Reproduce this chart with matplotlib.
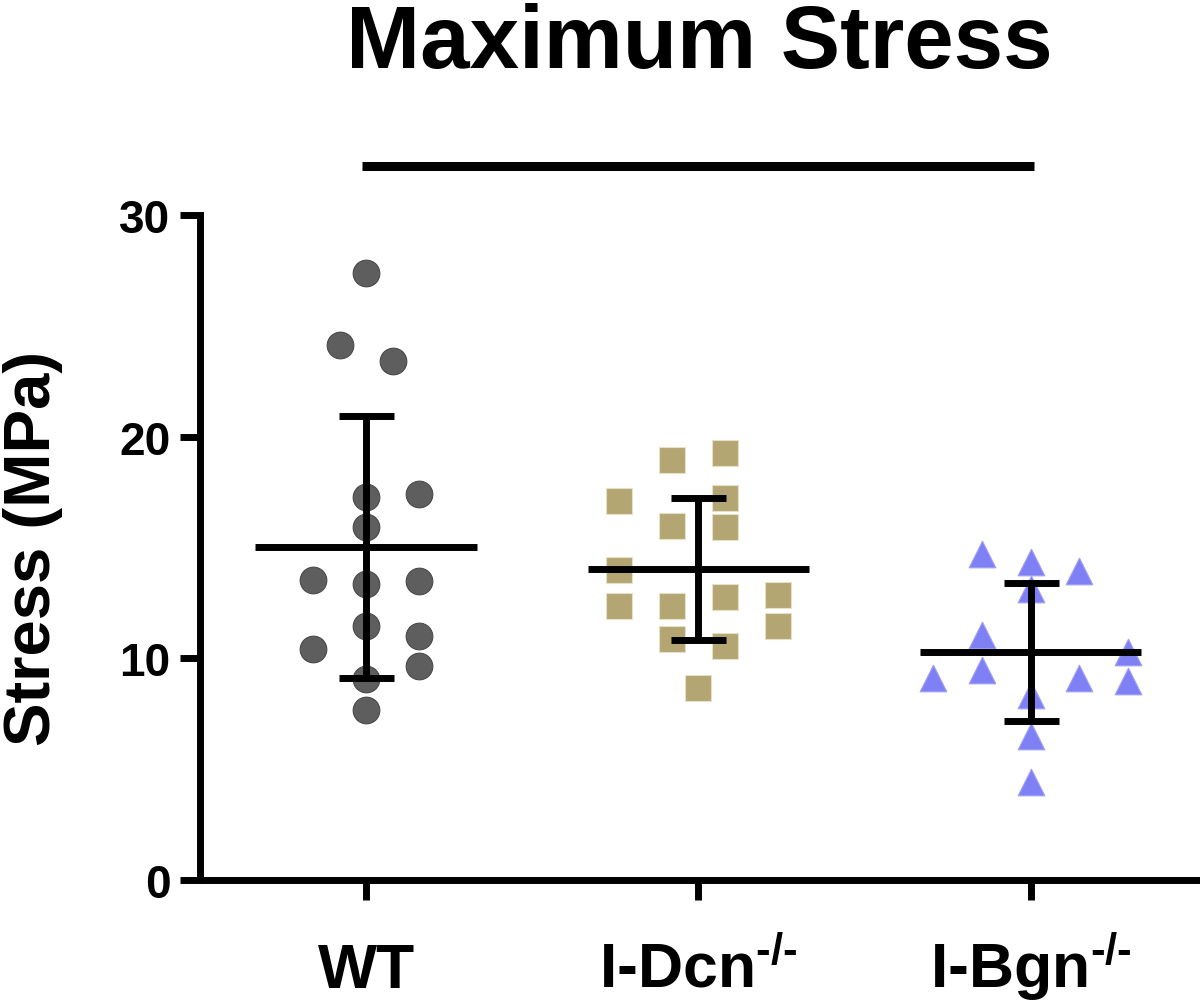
import matplotlib
matplotlib.use("Agg")
import matplotlib.pyplot as plt
import numpy as np

# ---------------- data ----------------
categories = ["WT", "I-Dcn", "I-Bgn"]
tick_labels = ["WT", r"I-Dcn$^{\text{-/-}}$", r"I-Bgn$^{\text{-/-}}$"]

wt_values = [27.38, 24.13, 23.41, 17.28, 17.41, 15.92, 13.53, 13.35, 13.49,
             11.46, 10.42, 11.00, 9.65, 9.07, 7.67]
dcn_values = [18.94, 19.26, 17.10, 17.23, 15.97, 15.92, 13.98, 12.36, 12.36,
              12.76, 10.87, 10.55, 8.66, 12.85, 11.46]
bgn_values = [14.70, 14.34, 13.94, 13.13, 11.05, 10.28, 9.11, 9.47, 9.11,
              8.98, 8.34, 6.50, 4.42]

group_means = [15.02, 14.03, 10.28]
group_sds = [5.91, 3.20, 3.12]

sig_pair = (0, 2)
sig_level = 32.2

# ---------------- layout of the scatter columns ----------------
wt_cols = [0, -1, 1, 0, 2, 0, -2, 0, 2, 0, -2, 2, 2, 0, 0]
dcn_cols = [-1, 1, -3, 1, -1, 1, -3, -3, -1, 1, -1, 1, 0, 3, 3]
bgn_cols = [-1, 0, 1, 0, -1, 2, -2, -1, 1, 2, 0, 0, 0]
col_step = [0.08, 0.08, 0.147]

# ---------------- style ----------------
plt.rcParams["font.family"] = ["Liberation Sans", "DejaVu Sans"]
plt.rcParams["font.weight"] = "bold"
plt.rcParams["mathtext.fontset"] = "custom"
plt.rcParams["mathtext.rm"] = "Liberation Sans:bold"
plt.rcParams["mathtext.bf"] = "Liberation Sans:bold"
plt.rcParams["mathtext.it"] = "Liberation Sans:bold"

fig = plt.figure(figsize=(12, 10.03), dpi=100)
ax = fig.add_axes([200 / 1200, 1 - 881 / 1003, 1000 / 1200, (881 - 216) / 1003])

groups = [
    (wt_values, wt_cols, "o", "#5e5e5e", "#4a4a4a"),
    (dcn_values, dcn_cols, "s", "#b3a673", "#e6e0c8"),
    (bgn_values, bgn_cols, "^", "#8080f5", "#a0a0f8"),
]
msize = 19.2
for i, (vals, cols, mk, fc, ec) in enumerate(groups):
    xs = i + np.array(cols) * col_step[i]
    ax.scatter(xs, vals, s=msize ** 2, marker=mk, facecolor=fc,
               edgecolor=ec, linewidth=0.8, zorder=2)

xpos = np.arange(len(categories))
ax.hlines(group_means, xpos - 0.333, xpos + 0.333, colors="black",
          linewidth=5, capstyle="butt", zorder=3)
ax.errorbar(xpos, group_means, yerr=group_sds, fmt="none", ecolor="black",
            elinewidth=5, capsize=19.8, capthick=5, zorder=3)

# significance bar
ax.plot([sig_pair[0] - 0.012, sig_pair[1] + 0.009], [sig_level, sig_level],
        color="black", linewidth=6.5, solid_capstyle="butt", clip_on=False)

ax.set_xlim(-0.5, 2.51)
ax.set_ylim(0, 30)
ax.set_yticks([0, 10, 20, 30])
ax.set_xticks(xpos)
ax.set_xticklabels(tick_labels)

for s in ["top", "right"]:
    ax.spines[s].set_visible(False)
for s in ["left", "bottom"]:
    ax.spines[s].set_linewidth(5)
    ax.spines[s].set_capstyle("projecting")

ax.tick_params(axis="both", direction="out", length=14.4, width=5, color="black")
ax.tick_params(axis="y", labelsize=33, pad=7)
ax.tick_params(axis="x", labelsize=45, pad=62.5)
for lbl in ax.get_yticklabels():
    lbl.set_fontweight("bold")
for lbl in ax.get_xticklabels():
    lbl.set_fontweight("bold")
    lbl.set_verticalalignment("baseline")

ax.set_ylabel("Stress (MPa)", fontsize=47, fontweight="bold")
ax.yaxis.label.set_verticalalignment("center")
ax.yaxis.set_label_coords(-0.167, 0.5)

fig.text(699 / 1200, 1 - 68 / 1003, "Maximum Stress", ha="center",
         va="baseline", fontsize=64, fontweight="bold")

fig.savefig("out.png", dpi=100)
